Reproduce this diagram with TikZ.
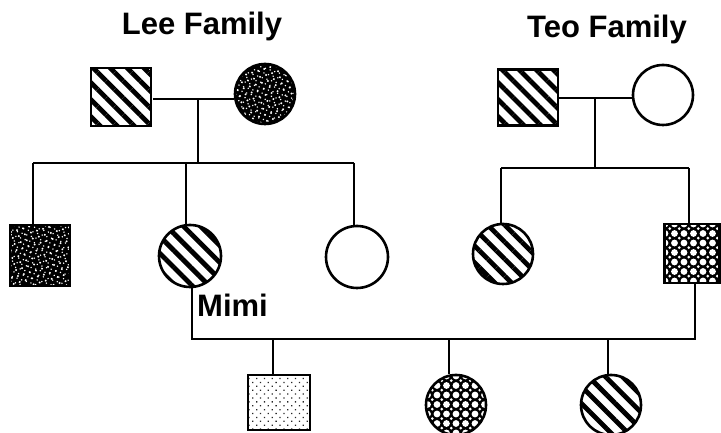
\documentclass[tikz,border=0pt]{standalone}
\usepackage{fontspec}
\setmainfont{Liberation Sans}
\usetikzlibrary{patterns.meta}
\begin{document}
\begin{tikzpicture}[x=1pt,y=1pt,
 sq/.style={draw, line width=2.6pt, minimum width=60pt, minimum height=58pt, inner sep=0pt},
 ci/.style={draw, circle, line width=2.6pt, minimum size=60pt, inner sep=0pt},
 stripes/.style={pattern={Lines[angle=-45,distance=12pt,line width=4.8pt]}, pattern color=black},
 speck/.style={preaction={fill=black},
   preaction={pattern={Dots[radius=1.1pt,distance=6.3pt,angle=17]}, pattern color=white},
   pattern={Dots[radius=0.8pt,distance=4.9pt,angle=71]}, pattern color=white},
 polka/.style={preaction={fill=black},
   preaction={pattern={Dots[radius=1.5pt,distance=9.5pt,xshift=4.75pt,yshift=4.75pt]}, pattern color=white},
   pattern={Dots[radius=3.4pt,distance=9.5pt]}, pattern color=white},
 lightdots/.style={pattern={Dots[radius=0.9pt,distance=5.5pt,angle=45]}, pattern color=black!85},
 conn/.style={line width=2.2pt},
 lbl/.style={font=\bfseries\fontsize{31}{31}\selectfont, inner sep=0pt}]
\useasboundingbox (0,0) rectangle (721,433);

% titles
\node[lbl, anchor=base] (tlee) at (202,398) {Lee Family};
\node[lbl, anchor=base] (tteo) at (607,395) {Teo Family};

% Lee generation
\node[sq, stripes] (lf) at (121,336) {};
\node[ci, speck] (lm) at (265,339) {};
% Teo generation
\node[sq, stripes, minimum height=56pt] (tf) at (528,335.5) {};
\node[ci] (tm) at (663,338) {};

% Lee children
\node[sq, speck, minimum height=61pt] (lson) at (40,177.5) {};
\node[ci, stripes, minimum size=62pt] (mimi) at (190,177) {};
\node[ci, minimum size=62pt] (ld) at (357,176) {};
% Teo children
\node[ci, stripes] (td) at (503,179) {};
\node[sq, polka, minimum width=55pt, minimum height=59pt] (tson) at (692,179.5) {};

\node[lbl, anchor=base west] (mimilbl) at (197,116) {Mimi};

% grandchildren
\node[sq, lightdots, minimum width=62pt, minimum height=55pt] (g1) at (279,30.5) {};
\node[ci, polka, minimum size=60pt] (g2) at (456,28) {};
\node[ci, stripes, minimum size=60pt] (g3) at (611,28) {};

% Lee connectors
\coordinate (lmar) at (198,334);
\coordinate (lsib) at (198,270);
\coordinate (lsL) at (33,270);
\coordinate (lsM) at (186,270);
\coordinate (lsR) at (354,270);
\draw[conn] (lf.east |- lmar) -- (lm.west |- lmar);
\draw[conn] (lmar) -- (lsib);
\draw[conn] (lsL) -- (lsR);
\draw[conn] (lsL) -- (lsL |- lson.north);
\draw[conn] (lsM) -- (lsM |- mimi.north);
\draw[conn] (lsR) -- (lsR |- ld.north);

% Teo connectors
\coordinate (tmar) at (595,335);
\coordinate (tsib) at (595,265);
\coordinate (tsL) at (501,265);
\coordinate (tsR) at (689,265);
\draw[conn] (tf.east |- tmar) -- (tm.west |- tmar);
\draw[conn] (tmar) -- (tsib);
\draw[conn] (tsL) -- (tsR);
\draw[conn] (tsL) -- (tsL |- td.north);
\draw[conn] (tsR) -- (tsR |- tson.north);

% marriage of Mimi and Teo son
\coordinate (mL) at (192,94);
\coordinate (mR) at (695,94);
\coordinate (c1) at (273,94);
\coordinate (c2) at (449,94);
\coordinate (c3) at (608,94);
\draw[conn] (mimi.south) ++(2,0) coordinate (mtop) -- (mL) -- (mR) -- (mR |- tson.south);
\draw[conn] (c1) -- (c1 |- g1.north);
\draw[conn] (c2) -- (c2 |- g2.north);
\draw[conn] (c3) -- (c3 |- g3.north);
\end{tikzpicture}
\end{document}
